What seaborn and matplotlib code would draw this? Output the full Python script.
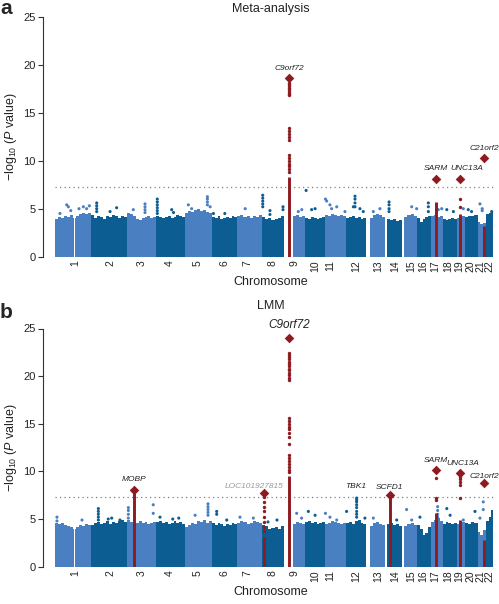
import numpy as np
import pandas as pd
import matplotlib
matplotlib.use('Agg')
import matplotlib.pyplot as plt
import seaborn as sns

sns.set_style('ticks')
plt.rcParams['font.family'] = ['Liberation Sans', 'DejaVu Sans']
plt.rcParams['mathtext.fontset'] = 'custom'
plt.rcParams['mathtext.rm'] = 'Liberation Sans'
plt.rcParams['mathtext.it'] = 'Liberation Sans:italic'

# Chromosome layout (width on the genome axis, start of data inside each one)
chroms = list(range(1, 23))
chrom_size = [240, 240, 195, 192, 180, 168, 165, 146, 141, 134, 140,
              134, 127, 112, 100, 92, 81, 90, 56, 84, 58, 48]
data_start = [0, 0, 0, 0, 0, 0, 0, 0, 60, 0, 0, 0, 22, 8, 13, 0, 0, 0, 0, 0, 0, 0]
centromere_gaps = [(1, 124, 131)]
# tick label positions along the genome axis
chrom_tick = [133, 367, 580, 767, 953, 1133, 1280, 1453, 1600, 1733, 1833,
              2007, 2153, 2267, 2373, 2453, 2533, 2620, 2693, 2767, 2833, 2893]

# Upper edge of the dense body of SNPs per chromosome
meta_body = [
    [3.9, 4.1, 4.0, 4.2, 4.1, 4.3, 4.0, 4.2, 4.4, 4.5, 4.4, 4.6],
    [4.3, 4.0, 4.2, 4.1, 3.9, 4.2, 4.1, 4.3, 4.2, 4.0, 4.2, 4.1],
    [4.5, 4.4, 4.2, 3.9, 3.8, 4.0, 4.1, 4.2, 4.0, 4.1],
    [4.2, 4.1, 4.0, 4.1, 4.2, 4.0, 4.1, 4.3, 4.2, 4.1],
    [4.6, 4.8, 4.7, 4.9, 5.0, 4.8, 4.9, 4.7, 4.5],
    [4.1, 4.0, 4.2, 3.9, 4.0, 4.1, 4.0, 4.2, 4.1],
    [4.2, 4.3, 4.1, 4.2, 4.0, 4.2, 4.1, 4.3],
    [4.1, 3.9, 4.0, 3.8, 3.9, 4.0, 4.2],
    [4.2, 4.3, 4.1, 4.2],
    [4.0, 3.9, 4.1, 4.0, 3.9, 4.0, 4.1],
    [4.3, 4.2, 4.4, 4.3, 4.2, 4.3, 4.2],
    [4.0, 4.1, 4.2, 4.0, 4.1, 3.9, 4.0],
    [4.0, 4.3, 4.4, 4.3, 4.1],
    [3.9, 3.8, 3.9, 3.7, 3.8],
    [4.1, 4.3, 4.4, 4.2],
    [4.0, 3.6, 3.9, 4.1, 4.2],
    [4.2, 4.3, 4.1, 4.2],
    [3.9, 3.8, 3.9, 4.0, 3.9],
    [4.0, 4.1, 4.2],
    [4.1, 4.2, 4.2, 4.3],
    [3.6, 3.4, 3.5],
    [4.4, 4.6, 4.7],
]
lmm_body = [
    [4.6, 4.5, 4.6, 4.4, 4.3, 4.2, 4.0, 4.2, 4.4, 4.3, 4.5, 4.4],
    [4.4, 4.6, 4.7, 4.5, 4.6, 4.8, 4.5, 4.7, 4.6, 4.8, 4.9, 4.7],
    [4.9, 4.7, 4.5, 4.6, 4.8, 4.6, 4.7, 4.5, 4.6, 4.7],
    [4.7, 4.8, 4.6, 4.7, 4.5, 4.6, 4.8, 4.6, 4.7, 4.5],
    [4.2, 4.4, 4.6, 4.5, 4.8, 4.7, 4.9, 4.6, 4.8],
    [4.6, 4.4, 4.6, 4.5, 4.3, 4.5, 4.4, 4.6, 4.5],
    [4.6, 4.8, 4.7, 4.5, 4.6, 4.8, 4.7, 4.6],
    [4.4, 4.3, 4.0, 4.1, 4.2, 4.0, 4.3],
    [4.5, 4.7, 4.6, 4.5],
    [4.7, 4.8, 4.6, 4.7, 4.5, 4.6, 4.7],
    [4.5, 4.6, 4.8, 4.7, 4.6, 4.5, 4.6],
    [4.6, 4.7, 4.5, 4.8, 4.9, 4.6, 4.5],
    [4.3, 4.6, 4.7, 4.5, 4.4],
    [4.5, 4.6, 4.4, 4.5, 4.3],
    [4.3, 4.5, 4.6, 4.4],
    [4.4, 4.0, 3.3, 3.5, 4.2],
    [4.7, 4.9, 5.1, 4.8],
    [4.5, 4.7, 4.6, 4.5, 4.6],
    [4.5, 4.6, 4.7],
    [4.6, 4.5, 4.7, 4.6],
    [3.6, 3.3, 3.8],
    [4.8, 5.2, 6.0],
]

# Isolated SNPs above the body: (chromosome, position, -log10 P values)
meta_spikes = [
    (1, 33, [4.5]), (1, 78, [5.4]), (1, 89, [5.2]), (1, 105, [4.8]), (1, 160, [5.0]),
    (1, 189, [5.2]), (1, 211, [5.0]), (1, 229, [5.3]),
    (2, 38, [5.6, 5.3, 5.0, 4.7]), (2, 127, [4.7]), (2, 171, [5.1]),
    (3, 42, [4.9]), (3, 120, [5.5, 5.2, 4.9, 4.6]),
    (4, 7, [6.0, 5.7, 5.4, 5.1, 4.8, 4.5]), (4, 103, [4.9]), (4, 115, [4.6]),
    (5, 22, [5.4]), (5, 44, [5.0]), (5, 149, [6.25, 6.0, 5.7, 5.4]), (5, 167, [5.2]),
    (6, 9, [4.5]), (6, 85, [4.5]),
    (7, 53, [5.0]),
    (8, 5, [6.4, 6.1, 5.8, 5.5, 5.2]), (8, 53, [4.8, 4.4]), (8, 140, [5.2, 4.9]),
    (9, 96, [4.7]), (9, 119, [4.9]),
    (10, 7, [6.9]), (10, 44, [4.9]), (10, 67, [5.0]),
    (11, 2, [6.0]), (11, 10, [5.8]), (11, 32, [5.4]), (11, 43, [5.0]), (11, 77, [5.2]), (11, 132, [4.7]),
    (12, 48, [5.2]), (12, 59, [6.3, 6.0, 5.6, 5.2]), (12, 92, [5.0]), (12, 114, [4.7]),
    (13, 47, [4.7]), (13, 91, [5.0]),
    (14, 25, [5.7, 5.4, 5.0, 4.7]),
    (15, 64, [5.2]), (15, 97, [5.0]),
    (16, 75, [5.6, 5.2, 4.7]),
    (17, 49, [4.9]), (17, 72, [5.0]),
    (18, 25, [4.9]), (18, 69, [4.7]),
    (19, 45, [5.0]),
    (20, 22, [4.9]), (20, 44, [4.7]),
    (21, 16, [5.5]), (21, 31, [5.0, 4.8]),
    (22, 36, [4.7]),
]
lmm_spikes = [
    (1, 13, [5.2, 4.8]), (1, 180, [4.9]),
    (2, 49, [6.1, 5.8, 5.5, 5.2, 4.9]), (2, 115, [5.0]), (2, 138, [5.1]), (2, 193, [4.9]),
    (3, 9, [6.2, 5.9, 5.5, 5.1]), (3, 175, [6.5, 5.6]),
    (4, 25, [5.2]), (4, 110, [5.0]), (4, 150, [5.1]),
    (5, 67, [5.4]), (5, 153, [6.6, 6.3, 6.0, 5.7, 5.4]),
    (6, 31, [5.8, 5.5]), (6, 98, [4.9]),
    (7, 18, [5.2]), (7, 107, [5.1]),
    (8, 40, [4.7]), (8, 100, [4.9]),
    (9, 85, [5.6]), (9, 118, [5.1]),
    (10, 22, [5.8]), (10, 67, [5.4]),
    (11, 2, [5.6]), (11, 32, [5.2]), (11, 77, [4.9]),
    (12, 3, [5.8]), (12, 70, [7.2, 7.0, 6.8, 6.5, 6.2, 5.8, 5.5, 5.2]), (12, 125, [5.1]),
    (13, 47, [5.1]),
    (14, 76, [4.9]),
    (15, 30, [6.0]), (15, 64, [4.9]),
    (16, 19, [5.2]),
    (17, 45, [6.3, 5.9, 5.5, 5.2]),
    (18, 25, [6.1]), (18, 47, [5.4]),
    (19, 45, [4.9]),
    (20, 67, [5.8]),
    (21, 16, [5.1]), (21, 38, [6.8, 6.0]),
]

# Genome-wide significant loci (red columns)
meta_loci = ['C9orf72', 'SARM', 'UNC13A', 'C21orf2']
meta_loci_chrom = [9, 17, 19, 21]
meta_loci_pos = [35, 31, 25, 43]
meta_loci_top = [18.6, 8.1, 8.1, 10.3]
meta_loci_solid = [8.3, 5.7, 4.4, 3.2]
meta_loci_dots = [
    [18.1, 17.95, 17.8, 17.6, 17.45, 17.3, 17.1, 16.95, 16.8,
     13.4, 13.1, 12.8, 12.5, 12.2, 10.6, 10.3, 10.0, 9.7, 9.4, 9.1, 8.8],
    [],
    [6.0, 5.2],
    [],
]
lmm_loci = ['MOBP', 'LOC101927815', 'C9orf72', 'SCFD1', 'SARM', 'UNC13A', 'C21orf2']
lmm_loci_chrom = [3, 8, 9, 14, 17, 19, 21]
lmm_loci_pos = [47, 12, 35, 31, 31, 25, 43]
lmm_loci_top = [8.0, 7.7, 24.0, 7.5, 10.2, 9.8, 8.75]
lmm_loci_solid = [7.7, 3.1, 9.5, 7.4, 5.6, 4.9, 2.8]
lmm_loci_dots = [
    [],
    [7.3, 6.8, 6.3, 5.8, 5.2, 4.7, 4.2, 3.7],
    [22.4, 22.2, 22.0, 21.8, 21.5, 21.3, 21.1, 20.8, 20.6, 20.3, 20.1, 19.8, 19.6,
     15.6, 15.3, 15.0, 14.7, 14.4, 14.0, 13.6, 12.9,
     11.7, 11.4, 11.1, 10.8, 10.5, 10.2, 9.9],
    [],
    [9.3, 7.2, 7.0],
    [9.4, 9.2, 8.9, 8.6, 7.2],
    [],
]
tbk1_chrom, tbk1_pos, tbk1_top = 12, 70, 7.2
threshold = -np.log10(5e-8)

# styles
light = '#4a7fc2'
dark = '#0b5d92'
red = '#8e1b20'
txt = '#222222'

offsets = np.concatenate([[0], np.cumsum(chrom_size)[:-1]])
total = sum(chrom_size)


def gx(c, p):
    return offsets[c - 1] + p


def shade(c):
    return light if c % 2 == 1 else dark


def draw_panel(ax, body, spikes, names, lc, lp, ltop, lsolid, ldots, lab_style):
    # dense body
    for i, c in enumerate(chroms):
        vals = body[i]
        edges = np.linspace(offsets[i] + data_start[i], offsets[i] + chrom_size[i], len(vals) + 1)
        ax.fill_between(edges, 0, vals + [vals[-1]], step='post', color=shade(c), lw=0, zorder=1)
    for c, a, b in centromere_gaps:
        ax.fill_between([gx(c, a), gx(c, b)], 0, 5.5, color='white', lw=0, zorder=1.5)

    # isolated SNPs
    rows = []
    for c, p, vals in spikes:
        for v in vals:
            rows.append({'x': gx(c, p), 'y': v, 'chrom': 'odd' if c % 2 else 'even'})
    pts = pd.DataFrame(rows)
    sns.scatterplot(data=pts, x='x', y='y', hue='chrom', palette={'odd': light, 'even': dark},
                    s=5, linewidth=0, legend=False, ax=ax, zorder=2)

    # significant loci
    xs = [gx(c, p) for c, p in zip(lc, lp)]
    ax.vlines(xs, 0, lsolid, color=red, lw=2.1, zorder=3)
    dot_rows = [{'x': x, 'y': v} for x, d in zip(xs, ldots) for v in d]
    if dot_rows:
        sns.scatterplot(data=pd.DataFrame(dot_rows), x='x', y='y', color=red, s=6,
                        linewidth=0, legend=False, ax=ax, zorder=3)
    sns.scatterplot(x=xs, y=ltop, color=red, marker='D', s=24, linewidth=0,
                    legend=False, ax=ax, zorder=4)
    for name, x, t, (dx, dy, fs, col) in zip(names, xs, ltop, lab_style):
        ax.annotate(name, (x, t), xytext=(dx, dy), textcoords='offset points',
                    ha='center', va='center', fontsize=fs, style='italic', color=col,
                    annotation_clip=False, zorder=5)

    ax.axhline(threshold, xmin=(0 + 80) / (total + 117), xmax=(total + 80) / (total + 117),
               color='#808080', lw=0.9, ls=(0, (1, 2.6)), zorder=0.5)
    ax.set_xlim(-80, total + 37)
    ax.set_ylim(0, 25)
    ax.set_yticks([0, 5, 10, 15, 20, 25])
    ax.set_xticks(chrom_tick)
    ax.set_xticklabels([str(c) for c in chroms], rotation=90, fontsize=7.5, color=txt)
    ax.tick_params(axis='x', length=0, pad=2.5)
    ax.tick_params(axis='y', length=3.6, width=0.8, color='#333333', labelsize=8,
                   labelcolor=txt, pad=1.5)
    for s in ['top', 'right', 'bottom']:
        ax.spines[s].set_visible(False)
    ax.spines['left'].set_color('#333333')
    ax.spines['left'].set_linewidth(0.8)
    ax.spines['left'].set_bounds(0, 25)
    ax.set_xlabel('Chromosome', fontsize=9, color=txt, labelpad=3)
    ax.set_ylabel(r'$-$log$_{10}$ ($\mathit{P}$ value)', fontsize=9, color=txt)
    ax.yaxis.set_label_coords(-0.053, 0.5)
    ax.set_facecolor('white')


fig = plt.figure(figsize=(4.99, 6.04), dpi=100)
ax_a = fig.add_axes([43 / 499, (604 - 256.7) / 604, 456 / 499, 240 / 604])
ax_b = fig.add_axes([43 / 499, (604 - 566.7) / 604, 456 / 499, 238.2 / 604])

meta_style = [(0, 6.8, 6, txt), (0, 7.2, 6, txt), (5, 7.2, 6, txt), (0, 6.5, 6, txt)]
draw_panel(ax_a, meta_body, meta_spikes, meta_loci, meta_loci_chrom, meta_loci_pos,
           meta_loci_top, meta_loci_solid, meta_loci_dots, meta_style)
ax_a.set_title('Meta-analysis', fontsize=9, color=txt, pad=3.7)

lmm_style = [(0, 7.7, 6, txt), (-7.2, 4.8, 6, '#9a9a9a'), (0, 9.4, 8.5, txt),
             (0, 5.8, 6, txt), (0, 6.7, 6, txt), (1.5, 7.2, 6, txt), (0, 5.0, 6, txt)]
draw_panel(ax_b, lmm_body, lmm_spikes, lmm_loci, lmm_loci_chrom, lmm_loci_pos,
           lmm_loci_top, lmm_loci_solid, lmm_loci_dots, lmm_style)
ax_b.annotate('TBK1', (gx(tbk1_chrom, tbk1_pos), tbk1_top), xytext=(-1, 8),
              textcoords='offset points', ha='center', va='center', fontsize=6,
              style='italic', color=txt)
ax_b.set_title('LMM', fontsize=9, color=txt, pad=14)

fig.text(6 / 499, 1 - 8 / 604, 'a', fontsize=15, fontweight='bold', ha='center', va='center')
fig.text(6 / 499, 1 - 312 / 604, 'b', fontsize=15, fontweight='bold', ha='center', va='center')

fig.savefig('out.png', dpi=100)
